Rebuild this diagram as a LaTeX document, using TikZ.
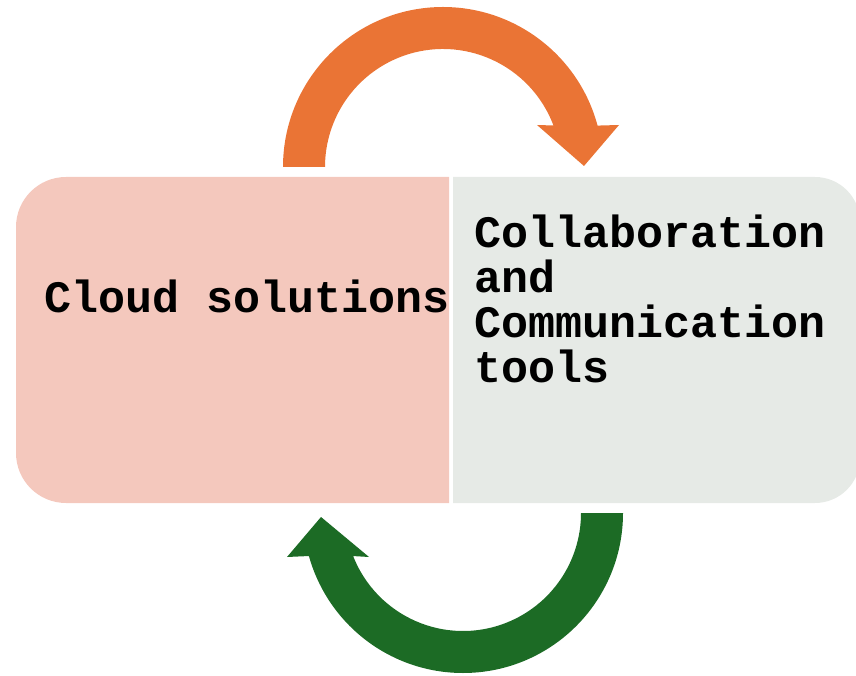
\documentclass[tikz,border=0pt]{standalone}
\usepackage{fontspec}
\setmonofont{Liberation Mono}
\usepackage{tikz}
\usetikzlibrary{calc}
\usetikzlibrary{positioning}
\definecolor{cloudfill}{HTML}{F4C8BD}
\definecolor{toolsfill}{HTML}{E6EAE6}
\definecolor{toparrow}{HTML}{EA7435}
\definecolor{botarrow}{HTML}{1C6B25}

\begin{document}
\begin{tikzpicture}[
x=1pt,y=1pt,
BoxText/.style={font=\fontsize{45}{45}\selectfont\ttfamily\bfseries,inner sep=0pt,align=left,text=black},
CloudBox/.style={fill=cloudfill},
ToolsBox/.style={fill=toolsfill}
]
\useasboundingbox (0,0) rectangle (856,675);

\coordinate (TopC) at (443,508);
\coordinate (BotC) at (463,162);

% boxes
\fill[CloudBox] (449,498) [rounded corners=50] -- (16,498) -- (16,172) [sharp corners] -- (449,172) -- cycle;
\fill[ToolsBox] (453,172) [rounded corners=45] -- (860,172) -- (860,498) [sharp corners] -- (453,498) -- cycle;

% top arrow
\fill[toparrow] ($(TopC)+(180:160)$) arc[start angle=180,end angle=15,radius=160]
  -- (619,550) -- (584,509) -- (537,550)
  -- ($(TopC)+(20.6:118)$) arc[start angle=20.6,end angle=180,radius=118] -- cycle;

% bottom arrow
\fill[botarrow] ($(BotC)+(0:160)$) arc[start angle=0,end angle=-164.4,radius=160]
  -- (287,118) -- (321,158) -- (369,118)
  -- ($(BotC)+(-158.6:118)$) arc[start angle=-158.6,end angle=0,radius=118] -- cycle;

\node[BoxText,anchor=base west] (cloud) at (44,362) {Cloud solutions};
\node[BoxText,anchor=base west] (tools) at (474,292) {Collaboration\\and\\Communication\\tools};

\end{tikzpicture}
\end{document}
